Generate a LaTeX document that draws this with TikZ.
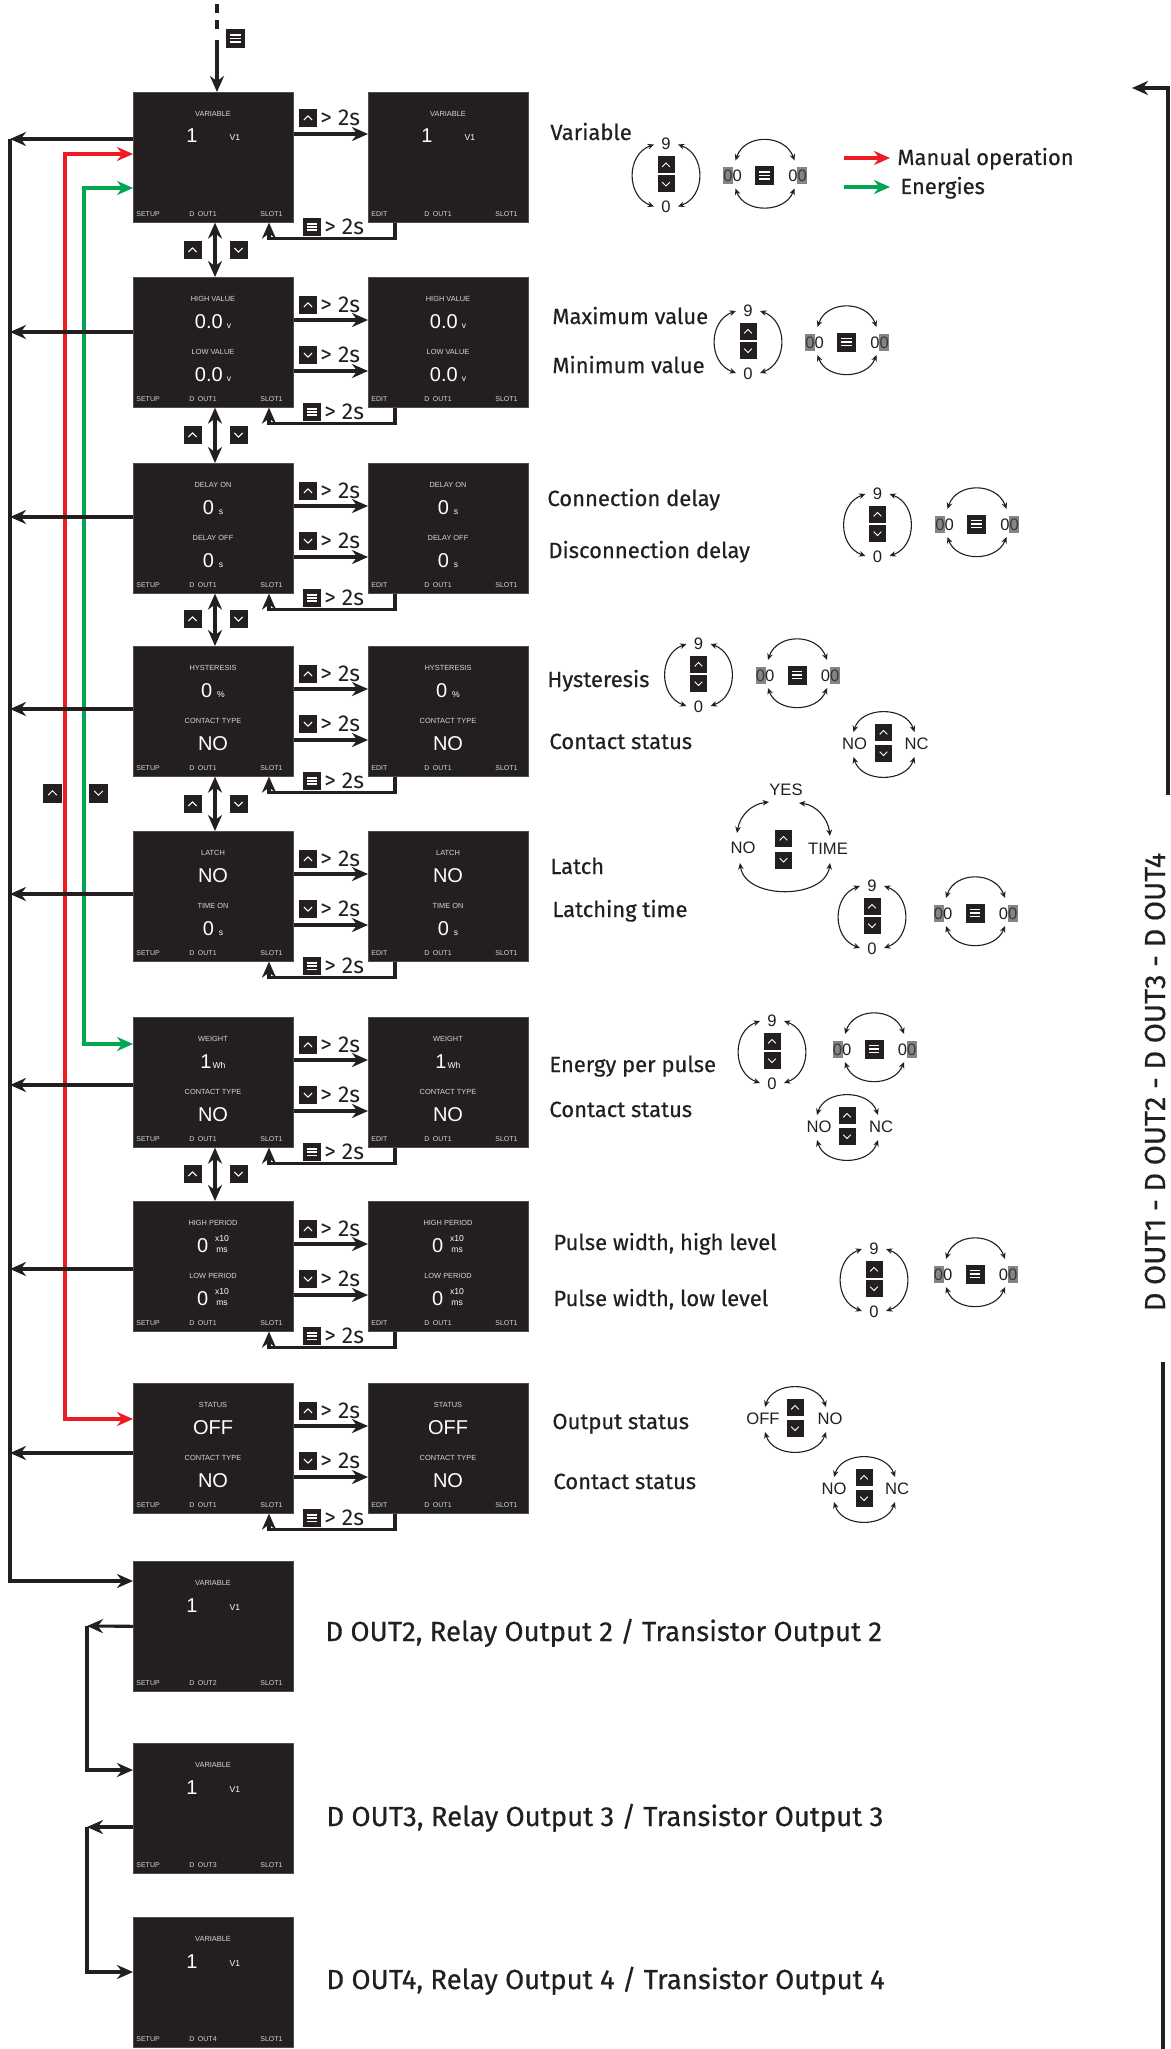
\documentclass[tikz,border=0pt]{standalone}
\usepackage{fontspec}
\setmainfont[FakeBold=0.45]{Fira Sans}
\newfontfamily\plainf{Fira Sans}
\newfontfamily\arl{Liberation Sans}
\usetikzlibrary{arrows.meta,calc}
\definecolor{ink}{HTML}{231F20}
\definecolor{scrc}{HTML}{231F20}
\definecolor{ttlc}{HTML}{D6D6D6}
\definecolor{redc}{HTML}{ED1C24}
\definecolor{grnc}{HTML}{00A651}
\definecolor{hlc}{HTML}{858585}
\definecolor{hld}{HTML}{3A3A3A}
\newcommand\unitf{\arl\fontsize{4.3}{5}\selectfont}
\tikzset{
 x=0.5pt, y=-0.5pt,
 screen/.style={fill=scrc, draw=scrc!80!white, line width=0.3pt, minimum width=80pt, minimum height=65pt, inner sep=0pt, anchor=north west},
 ttl/.style={font=\arl\fontsize{3.7}{4}\selectfont, text=ttlc, anchor=base, inner sep=0pt},
 valn/.style={font=\arl\fontsize{10}{12}\selectfont, text=white, anchor=base, inner sep=0pt},
 bot/.style={font=\arl\fontsize{3.5}{4}\selectfont, text=ttlc, inner sep=0pt},
 lbl/.style={font=\fontsize{11}{13}\selectfont, text=ink, anchor=base west, inner sep=0pt},
 biglbl/.style={font=\fontsize{13.8}{15}\selectfont, text=ink, anchor=base west, inner sep=0pt},
 tlab/.style={font=\plainf\fontsize{11.5}{13}\selectfont, text=ink, anchor=base west, inner sep=0pt},
 wd/.style={font=\arl\fontsize{8.3}{10}\selectfont, text=ink, anchor=base, inner sep=0pt},
 tip/.tip={Stealth[length=8pt,width=7pt]},
 conn/.style={draw=ink, line width=1.55pt, -tip},
 dconn/.style={draw=ink, line width=1.55pt, tip-tip},
 plain/.style={draw=ink, line width=1.55pt},
 redconn/.style={draw=redc, line width=1.55pt, tip-tip},
 grnconn/.style={draw=grnc, line width=1.55pt, tip-tip},
 warc/.style={draw=ink, line width=0.55pt, {Stealth[length=3.2pt,width=2.8pt]}-{Stealth[length=3.2pt,width=2.8pt]}},
 pics/upi/.style={code={
   \fill[scrc] (-#1,-#1) rectangle (#1,#1);
   \draw[white, line width=0.5pt, line join=round] (-0.45*#1,0.22*#1) -- (0,-0.24*#1) -- (0.45*#1,0.22*#1);}},
 pics/dni/.style={code={
   \fill[scrc] (-#1,-#1) rectangle (#1,#1);
   \draw[white, line width=0.5pt, line join=round] (-0.45*#1,-0.22*#1) -- (0,0.24*#1) -- (0.45*#1,-0.22*#1);}},
 pics/mni/.style={code={
   \fill[scrc] (-#1,-#1) rectangle (#1,#1);
   \foreach \k in {-0.36,0,0.36}{\draw[white, line width=0.75pt] (-0.55*#1,\k*#1) -- (0.55*#1,\k*#1);}}},
}
\newcommand\dout[1]{D\hspace{1.8pt}OUT#1}
\newcommand\scrbox[6]{%
 \node[screen] (#1) at (#2,#3) {};
 \begin{scope}[shift={(#2,#3)}]
  #6
  \node[bot,anchor=base west] at (3,124.5) {#4};
  \node[bot,anchor=base] at (70,124.5) {#5};
  \node[bot,anchor=base east] at (150,124.5) {SLOT1};
 \end{scope}}
\newcommand\single{%
 \node[ttl] at (80,24.7) {VARIABLE};
 \node[valn] at (59,51) {1};
 \node[valn,font=\unitf] at (102,49) {V1};}
\newcommand\two[4]{%
 \node[ttl] at (80,24.7) {#1};
 \node[valn] at (80,51) {#2};
 \node[ttl] at (80,77.7) {#3};
 \node[valn] at (80,104) {#4};}
\newcommand\vv{0.0\hspace{2pt}{\unitf v}}
\newcommand\vs{0\hspace{2.5pt}{\unitf s}}
\newcommand\vp{0\hspace{2.5pt}{\unitf \%}}
\newcommand\vw{1\hspace{0.5pt}{\unitf Wh}}
\newcommand\vx{0\hspace{3.5pt}{\unitf\begin{tabular}[b]{@{}c@{}}x10\\[0.5pt]ms\end{tabular}}}
% links between the two screens of a row
\newcommand\rowlinks[3]{%
 \draw[conn] ($(#1.north east)+(0,43)$) -- ($(#2.north west)+(0,43)$);
 \draw[conn] ($(#1.north east)+(0,94)$) -- ($(#2.north west)+(0,94)$);
 \pic at (308,#3+28) {upi=9}; \node[tlab] at (320,#3+35.5) {> 2s};
 \pic at (308,#3+78) {dni=9}; \node[tlab] at (320,#3+85.5) {> 2s};
 \draw[conn] ($(#2.south west)+(27,0)$) -- ++(0,16) -| ($(#1.south west)+(136,0)$);
 \pic at (312,#3+135) {mni=9}; \node[tlab] at (324,#3+142.5) {> 2s};}
\newcommand\updn[3]{%
 \draw[dconn] ($(#1.south west)+(82,0)$) -- ($(#2.north west)+(82,0)$);
 \pic at (192.5,#3) {upi=9}; \pic at (238.5,#3) {dni=9};}
% widgets
\newcommand\nz[2]{%
 \node[wd] at (#1,#2-25) {9};
 \pic at (#1,#2-9.5) {upi=8.5}; \pic at (#1,#2+9.5) {dni=8.5};
 \node[wd] at (#1,#2+38) {0};
 \draw[warc] (#1-12,#2-30) .. controls (#1-40,#2-20) and (#1-40,#2+22) .. (#1-12,#2+32);
 \draw[warc] (#1+12,#2-30) .. controls (#1+40,#2-20) and (#1+40,#2+22) .. (#1+12,#2+32);}
\newcommand\hz[2]{%
 \fill[hlc] (#1-5,#2-8.5) rectangle (#1+5,#2+8.5);
 \node[wd,text=hld] at (#1,#2+6) {0};}
\newcommand\pz[2]{\node[wd] at (#1,#2+6) {0};}
\newcommand\zz[2]{%
 \pic at (#1,#2) {mni=9.5};
 \hz{#1-36.5}{#2}\pz{#1-27.2}{#2}
 \pz{#1+28.5}{#2}\hz{#1+37.8}{#2}
 \draw[warc] (#1-29,#2-15) .. controls (#1-20,#2-42) and (#1+20,#2-42) .. (#1+30,#2-15);
 \draw[warc] (#1-29,#2+13) .. controls (#1-20,#2+38) and (#1+20,#2+38) .. (#1+30,#2+13);}
\newcommand\twostate[6]{%
 \pic at (#1,#2-10.5) {upi=8.5}; \pic at (#1,#2+10.5) {dni=8.5};
 \node[wd] at (#1-#5,#2+6) {#3}; \node[wd] at (#1+#6,#2+6) {#4};
 \draw[warc] (#1-30,#2-11) .. controls (#1-22,#2-37) and (#1+22,#2-37) .. (#1+31,#2-11);
 \draw[warc] (#1-30,#2+14) .. controls (#1-22,#2+40) and (#1+22,#2+40) .. (#1+31,#2+14);}
\begin{document}
\begin{tikzpicture}
\fill[white] (0,0) rectangle (1171,2049);
\useasboundingbox (0,0) rectangle (1171,2049);

% ---------- screens ----------
\scrbox{l1}{133}{92}{SETUP}{\dout1}{\single}
\scrbox{r1}{368}{92}{EDIT}{\dout1}{\single}
\scrbox{l2}{133}{277}{SETUP}{\dout1}{\two{HIGH VALUE}{\vv}{LOW VALUE}{\vv}}
\scrbox{r2}{368}{277}{EDIT}{\dout1}{\two{HIGH VALUE}{\vv}{LOW VALUE}{\vv}}
\scrbox{l3}{133}{463}{SETUP}{\dout1}{\two{DELAY ON}{\vs}{DELAY OFF}{\vs}}
\scrbox{r3}{368}{463}{EDIT}{\dout1}{\two{DELAY ON}{\vs}{DELAY OFF}{\vs}}
\scrbox{l4}{133}{646}{SETUP}{\dout1}{\two{HYSTERESIS}{\vp}{CONTACT TYPE}{NO}}
\scrbox{r4}{368}{646}{EDIT}{\dout1}{\two{HYSTERESIS}{\vp}{CONTACT TYPE}{NO}}
\scrbox{l5}{133}{831}{SETUP}{\dout1}{\two{LATCH}{NO}{TIME ON}{\vs}}
\scrbox{r5}{368}{831}{EDIT}{\dout1}{\two{LATCH}{NO}{TIME ON}{\vs}}
\scrbox{l6}{133}{1017}{SETUP}{\dout1}{\two{WEIGHT}{\vw}{CONTACT TYPE}{NO}}
\scrbox{r6}{368}{1017}{EDIT}{\dout1}{\two{WEIGHT}{\vw}{CONTACT TYPE}{NO}}
\scrbox{l7}{133}{1201}{SETUP}{\dout1}{\two{HIGH PERIOD}{\vx}{LOW PERIOD}{\vx}}
\scrbox{r7}{368}{1201}{EDIT}{\dout1}{\two{HIGH PERIOD}{\vx}{LOW PERIOD}{\vx}}
\scrbox{l8}{133}{1383}{SETUP}{\dout1}{\two{STATUS}{OFF}{CONTACT TYPE}{NO}}
\scrbox{r8}{368}{1383}{EDIT}{\dout1}{\two{STATUS}{OFF}{CONTACT TYPE}{NO}}
\scrbox{d2}{133}{1561}{SETUP}{\dout2}{\single}
\scrbox{d3}{133}{1743}{SETUP}{\dout3}{\single}
\scrbox{d4}{133}{1917}{SETUP}{\dout4}{\single}

% ---------- entry ----------
\coordinate (tp) at (217,4);
\coordinate (tq) at (217,34);
\coordinate (tr) at (217,40);
\draw[plain, dash pattern=on 4.5pt off 3.5pt] (tp) -- (tq);
\draw[conn] (tr) -- (tr |- l1.north);
\pic at (235.5,38.5) {mni=9.5};

% ---------- row 1 links ----------
\draw[conn] ($(l1.north east)+(0,42)$) -- ($(r1.north west)+(0,42)$);
\pic at (308,118) {upi=9}; \node[tlab] at (320,125.5) {> 2s};
\draw[conn] ($(r1.south west)+(27,0)$) -- ++(0,16) -| ($(l1.south west)+(136,0)$);
\pic at (312,227) {mni=9}; \node[tlab] at (324,234.5) {> 2s};

\rowlinks{l2}{r2}{277}
\rowlinks{l3}{r3}{463}
\rowlinks{l4}{r4}{646}
\rowlinks{l5}{r5}{831}
\rowlinks{l6}{r6}{1017}
\rowlinks{l7}{r7}{1201}
\rowlinks{l8}{r8}{1383}

% ---------- vertical navigation ----------
\updn{l1}{l2}{250}
\updn{l2}{l3}{435}
\updn{l3}{l4}{619}
\updn{l4}{l5}{804}
\updn{l6}{l7}{1174}

% ---------- red / green ----------
\coordinate (rc) at (65,700);
\coordinate (gc) at (84,600);
\draw[redconn] ($(l1.north west)+(0,62)$) -| (rc) |- ($(l8.north west)+(0,36)$);
\draw[grnconn] ($(l1.north west)+(0,96)$) -| (gc) |- ($(l6.north west)+(0,27)$);
\pic at (52.5,793) {upi=9.5};
\pic at (98.5,793) {dni=9.5};

% ---------- left exit line ----------
\coordinate (a1) at (10,139);
\coordinate (a2) at (10,332);
\coordinate (a3) at (10,517);
\coordinate (a4) at (10,709);
\coordinate (a5) at (10,894);
\coordinate (a6) at (10,1085);
\coordinate (a7) at (10,1269);
\coordinate (a8) at (10,1453);
\draw[conn] ($(l1.north west)+(0,47)$) -- (a1);
\draw[conn] ($(l2.north west)+(0,55)$) -- (a2);
\draw[conn] ($(l3.north west)+(0,54)$) -- (a3);
\draw[conn] ($(l4.north west)+(0,63)$) -- (a4);
\draw[conn] ($(l5.north west)+(0,63)$) -- (a5);
\draw[conn] ($(l6.north west)+(0,68)$) -- (a6);
\draw[conn] ($(l7.north west)+(0,68)$) -- (a7);
\draw[conn] ($(l8.north west)+(0,70)$) -- (a8);
\draw[conn] (a1) |- ($(d2.north west)+(0,20)$);

% ---------- lower outputs ----------
\coordinate (b2) at (87,1626);
\coordinate (b3) at (87,1827);
\draw[conn] (d2.west) -- (b2);
\draw[conn] (b2) |- ($(d3.north west)+(0,27)$);
\draw[conn] ($(d3.north west)+(0,84)$) -- (b3);
\draw[conn] (b3) |- ($(d4.north west)+(0,55)$);
\node[biglbl] (o2) at (325,1641) {D OUT2, Relay Output 2 / Transistor Output 2};
\node[biglbl] (o3) at (326,1826) {D OUT3, Relay Output 3 / Transistor Output 3};
\node[biglbl] (o4) at (326,1989) {D OUT4, Relay Output 4 / Transistor Output 4};

% ---------- right side loop ----------
\coordinate (rv1) at (1168,795);
\coordinate (rv2) at (1168,88);
\coordinate (rv3) at (1132,88);
\coordinate (rv4) at (1163,1362);
\coordinate (rv5) at (1163,2049);
\draw[conn] (rv1) -- (rv2) -- (rv3);
\draw[plain] (rv4) -- (rv5);
\node[font=\fontsize{14.5}{16}\selectfont, text=ink, rotate=90, inner sep=0pt] (dl) at (1155,1082) {D OUT1 - D OUT2 - D OUT3 - D OUT4};

% ---------- legend ----------
\coordinate (lg1) at (844,158);
\coordinate (lg2) at (890,158);
\coordinate (lg3) at (844,187);
\coordinate (lg4) at (890,187);
\draw[draw=redc, line width=1.55pt, -tip] (lg1) -- (lg2);
\draw[draw=grnc, line width=1.55pt, -tip] (lg3) -- (lg4);
\node[lbl] (lm) at (897,165) {Manual operation};
\node[lbl] (le) at (900,194) {Energies};

% ---------- descriptions ----------
\node[lbl] (t1) at (550,140) {Variable};
\node[lbl] (t2a) at (552,324) {Maximum value};
\node[lbl] (t2b) at (552,373) {Minimum value};
\node[lbl] (t3a) at (547,506) {Connection delay};
\node[lbl] (t3b) at (548,558) {Disconnection delay};
\node[lbl] (t4a) at (547,687) {Hysteresis};
\node[lbl] (t4b) at (549,749) {Contact status};
\node[lbl] (t5a) at (550,874) {Latch};
\node[lbl] (t5b) at (552,917) {Latching time};
\node[lbl] (t6a) at (549,1072) {Energy per pulse};
\node[lbl] (t6b) at (549,1117) {Contact status};
\node[lbl] (t7a) at (553,1250) {Pulse width, high level};
\node[lbl] (t7b) at (553,1306) {Pulse width, low level};
\node[lbl] (t8a) at (552,1429) {Output status};
\node[lbl] (t8b) at (553,1489) {Contact status};

% ---------- value widgets ----------
\nz{666}{174.5}
\zz{764.5}{175.5}
\nz{748}{341}
\zz{846.5}{342}
\nz{877.5}{524}
\zz{976.5}{524}
\nz{698.5}{674}
\zz{797}{675}
\twostate{883.5}{743}{NO}{NC}{29}{33}
% latch widget
\pic at (783.5,838.5) {upi=8.5};
\pic at (783.5,860) {dni=8.5};
\node[wd] at (786,795) {YES};
\node[wd] at (743,853) {NO};
\node[wd] at (828,854) {TIME};
\draw[warc] (769,802) .. controls (752,804) and (740,815) .. (737,833);
\draw[warc] (799,803) .. controls (816,805) and (828,818) .. (830,836);
\draw[warc] (740,863) .. controls (745,900) and (825,900) .. (830,863);
\nz{872}{916}
\zz{975}{913}
\nz{772}{1051}
\zz{874}{1049}
\twostate{847}{1126}{NO}{NC}{28}{34}
\nz{874}{1279}
\zz{975}{1274}
\twostate{795}{1418}{OFF}{NO}{32}{35}
\twostate{864}{1488}{NO}{NC}{30}{33}
\end{tikzpicture}
\end{document}
